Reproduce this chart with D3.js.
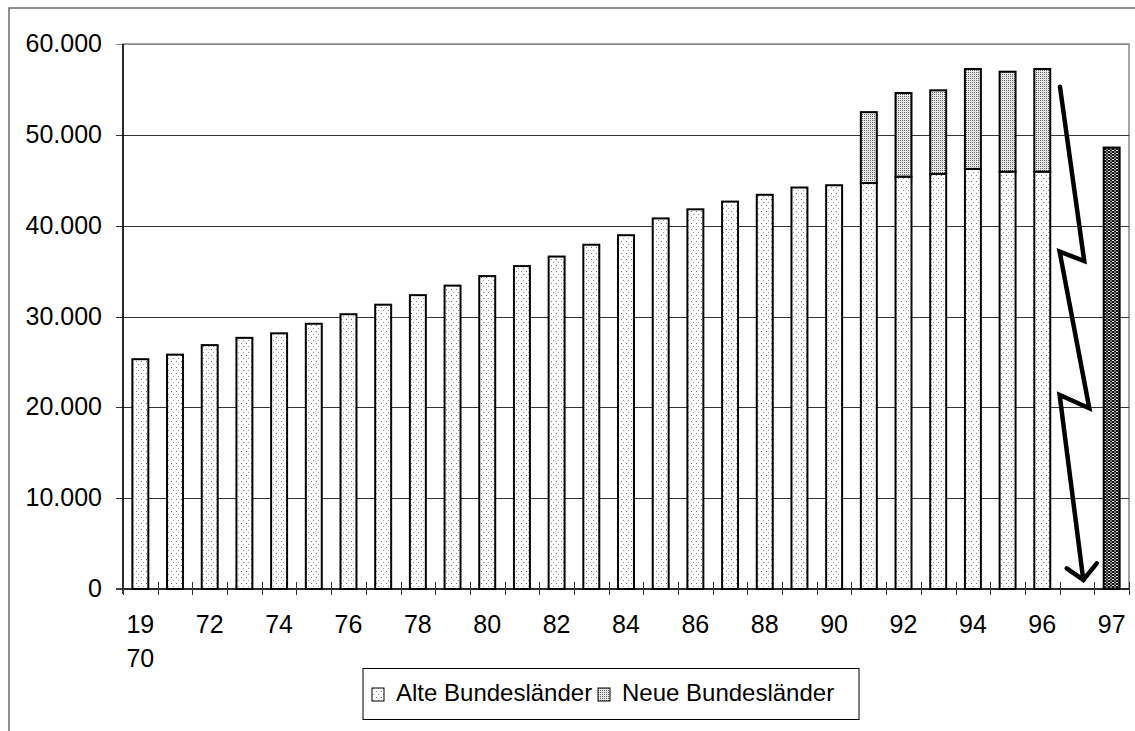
<!DOCTYPE html>
<html>
<head>
<meta charset="utf-8">
<script src="https://cdn.jsdelivr.net/npm/d3@7"></script>
<style>
  html, body { margin: 0; padding: 0; background: #fff; }
  svg { display: block; font-family: "Liberation Sans", Arial, sans-serif; }
</style>
</head>
<body>
<svg id="chart" width="1135" height="731"></svg>
<script>
// ---- data ----
const categories = ["1970","1971","1972","1973","1974","1975","1976","1977","1978","1979",
  "1980","1981","1982","1983","1984","1985","1986","1987","1988","1989",
  "1990","1991","1992","1993","1994","1995","1996","gap","1997"];
const tickLabels = ["19\n70","","72","","74","","76","","78","","80","","82","","84","","86","","88","","90","","92","","94","","96","","97"];
const alteBundeslaender = [25300,25800,26850,27650,28150,29200,30250,31300,32350,33400,
  34450,35550,36600,37900,38950,40800,41800,42650,43400,44200,
  44450,44700,45400,45700,46250,45950,45950,null,null];
const neueBundeslaender = [null,null,null,null,null,null,null,null,null,null,
  null,null,null,null,null,null,null,null,null,null,
  null,7800,9200,9200,11000,11000,11300,null,null];
const gesamt = [null,null,null,null,null,null,null,null,null,null,
  null,null,null,null,null,null,null,null,null,null,
  null,null,null,null,null,null,null,null,48600];
const yTicks = [0,10000,20000,30000,40000,50000,60000];
const seriesNames = ["Alte Bundesländer","Neue Bundesländer"];
// zig-zag arrow annotation in the empty slot: [fraction of slot, value]
const arrowLine = [[0.01,55300],[0.71,36100],[0.0,37150],[0.856,19900],[0.0,21370],[0.683,1000]];
const arrowHead = [[0.204,2280],[0.683,1000],[1.07,2830]];

// ---- layout ----
const L = 123, R = 1129, T = 44, B = 589;
const svg = d3.select("#chart");
const defs = svg.append("defs");

// patterns
const pA = defs.append("pattern").attr("id","patAlte").attr("patternUnits","userSpaceOnUse")
  .attr("width",5).attr("height",6);
pA.append("rect").attr("width",5).attr("height",6).attr("fill","#fff");
pA.append("rect").attr("x",1).attr("y",1).attr("width",1).attr("height",1).attr("fill","#777");
pA.append("rect").attr("x",3).attr("y",4).attr("width",1).attr("height",1).attr("fill","#999");

const pN = defs.append("pattern").attr("id","patNeue").attr("patternUnits","userSpaceOnUse")
  .attr("width",2).attr("height",2);
pN.append("rect").attr("width",2).attr("height",2).attr("fill","#e8e8e8");
pN.append("rect").attr("x",0).attr("y",0).attr("width",1).attr("height",1).attr("fill","#666");

const pG = defs.append("pattern").attr("id","patGes").attr("patternUnits","userSpaceOnUse")
  .attr("width",4).attr("height",3);
pG.append("rect").attr("width",4).attr("height",3).attr("fill","#111");
pG.append("rect").attr("x",0).attr("y",0).attr("width",2).attr("height",1).attr("fill","#eee");
pG.append("rect").attr("x",2).attr("y",1.5).attr("width",2).attr("height",1).attr("fill","#ddd");

// outer frame
svg.append("rect").attr("x",9).attr("y",8).attr("width",1140).attr("height",740)
  .attr("fill","none").attr("stroke","#555").attr("stroke-width",1.3);

const x = d3.scaleBand().domain(categories).range([L,R]).paddingInner(0.54).paddingOuter(0.27);
const y = d3.scaleLinear().domain([0,60000]).range([B,T]);
const step = x.step(), bw = x.bandwidth();
const slotStart = c => x(c) + bw/2 - step/2;

const fmt = d3.formatLocale({decimal:",", thousands:".", grouping:[3], currency:["","€"]}).format(",d");

// plot area border (grey)
svg.append("rect").attr("x",L).attr("y",T).attr("width",R-L).attr("height",B-T)
  .attr("fill","none").attr("stroke","#888").attr("stroke-width",1.5);

// gridlines + y ticks
svg.append("g").selectAll("line").data(yTicks.filter(v=>v>0)).join("line")
  .attr("x1",L-7).attr("x2",R).attr("y1",d=>Math.round(y(d))+0.5).attr("y2",d=>Math.round(y(d))+0.5)
  .attr("stroke",d=>d===60000?"#888":"#333").attr("stroke-width",1);

// y axis via d3
const yAxis = d3.axisLeft(y).tickValues(yTicks).tickFormat(fmt).tickSize(0).tickPadding(0);
const gy = svg.append("g").attr("transform",`translate(${L},0)`).call(yAxis);
gy.select(".domain").remove();
gy.selectAll("text").attr("x",-21).attr("dy","0.3em").attr("font-size",25)
  .attr("fill","#000").attr("font-family","Liberation Sans, Arial, sans-serif");

// bars: alte
const idx = categories.map((c,i)=>i);
svg.append("g").selectAll("rect").data(idx.filter(i=>alteBundeslaender[i]!=null)).join("rect")
  .attr("x",i=>x(categories[i])).attr("width",bw)
  .attr("y",i=>y(alteBundeslaender[i])).attr("height",i=>y(0)-y(alteBundeslaender[i]))
  .attr("fill","url(#patAlte)").attr("stroke","#000").attr("stroke-width",2);
// bars: neue (stacked)
svg.append("g").selectAll("rect").data(idx.filter(i=>neueBundeslaender[i]!=null)).join("rect")
  .attr("x",i=>x(categories[i])).attr("width",bw)
  .attr("y",i=>y(alteBundeslaender[i]+neueBundeslaender[i]))
  .attr("height",i=>y(alteBundeslaender[i])-y(alteBundeslaender[i]+neueBundeslaender[i]))
  .attr("fill","url(#patNeue)").attr("stroke","#000").attr("stroke-width",2);
// bar: gesamt 1997
svg.append("g").selectAll("rect").data(idx.filter(i=>gesamt[i]!=null)).join("rect")
  .attr("x",i=>x(categories[i])).attr("width",bw)
  .attr("y",i=>y(gesamt[i])).attr("height",i=>y(0)-y(gesamt[i]))
  .attr("fill","url(#patGes)").attr("stroke","#000").attr("stroke-width",2);

// axes lines
svg.append("line").attr("x1",L).attr("x2",R).attr("y1",B).attr("y2",B).attr("stroke","#000").attr("stroke-width",1.5);
svg.append("line").attr("x1",L).attr("x2",L).attr("y1",T).attr("y2",B+5).attr("stroke","#000").attr("stroke-width",1.5);
svg.append("line").attr("x1",L-7).attr("x2",L).attr("y1",B).attr("y2",B).attr("stroke","#000").attr("stroke-width",1.5);

// x ticks at band boundaries
const bounds = categories.map(c=>slotStart(c)).concat([slotStart(categories[categories.length-1])+step]);
svg.append("g").selectAll("line").data(bounds).join("line")
  .attr("x1",d=>Math.round(d)+0.5).attr("x2",d=>Math.round(d)+0.5).attr("y1",B-7).attr("y2",B+6)
  .attr("stroke","#333").attr("stroke-width",1);

// x labels
const gx = svg.append("g");
categories.forEach((c,i)=>{
  const lab = tickLabels[i];
  if (!lab) return;
  const t = gx.append("text").attr("x",x(c)+bw/2).attr("text-anchor","middle")
    .attr("font-size",25).attr("fill","#000");
  lab.split("\n").forEach((s,k)=>{
    t.append("tspan").attr("x",x(c)+bw/2).attr("y",633+k*34).text(s);
  });
});

// arrow annotation
const gapX = f => slotStart("gap") + f*step;
const line = d3.line().x(d=>gapX(d[0])).y(d=>y(d[1]));
svg.append("path").attr("d",line(arrowLine)).attr("fill","none").attr("stroke","#000")
  .attr("stroke-width",4.5).attr("stroke-linejoin","miter").attr("stroke-linecap","round");
svg.append("path").attr("d",line(arrowHead)).attr("fill","none").attr("stroke","#000")
  .attr("stroke-width",4.5).attr("stroke-linejoin","miter").attr("stroke-linecap","round");

// legend
const lg = svg.append("g");
lg.append("rect").attr("x",363).attr("y",668.5).attr("width",496).attr("height",51)
  .attr("fill","#fff").attr("stroke","#000").attr("stroke-width",1);
const legendItems = [
  {name: seriesNames[0], fill:"url(#patAlte)", sx:372, tx:396},
  {name: seriesNames[1], fill:"url(#patNeue)", sx:598, tx:622}
];
legendItems.forEach(d=>{
  lg.append("rect").attr("x",d.sx).attr("y",688).attr("width",12).attr("height",13)
    .attr("fill",d.fill).attr("stroke","#000").attr("stroke-width",1);
  lg.append("text").attr("x",d.tx).attr("y",701).attr("font-size",24).attr("fill","#000").text(d.name);
});
</script>
</body>
</html>
